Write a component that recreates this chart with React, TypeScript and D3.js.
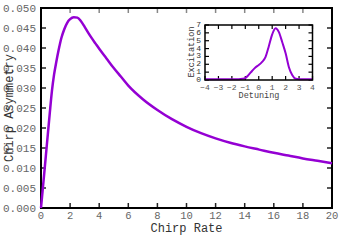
import React from "react";
import * as d3 from "d3";

// main curve: chirp asymmetry vs chirp rate
const chirpRate = [0, 0.2, 0.4, 0.6, 0.75, 0.9, 1.05, 1.2, 1.4, 1.6, 1.8, 2.0, 2.25, 2.5, 2.75, 3.0, 3.25, 3.5, 3.75, 4.0, 4.5, 5.0, 5.5, 6.0, 7.0, 8.0, 9.0, 10.0, 11.0, 12.0, 13.0, 14.0, 15.0, 16.0, 17.0, 18.0, 19.0, 20.0];
const asymmetry = [0, 0.0078, 0.0157, 0.0236, 0.0292, 0.0334, 0.0365, 0.0393, 0.0425, 0.0447, 0.0463, 0.0472, 0.0477, 0.0476, 0.0467, 0.0453, 0.0438, 0.0424, 0.0411, 0.0398, 0.0374, 0.035, 0.0328, 0.0306, 0.0272, 0.0245, 0.0222, 0.0203, 0.0187, 0.0174, 0.0163, 0.0154, 0.0146, 0.0138, 0.0131, 0.0124, 0.0118, 0.0112];

// inset: excitation vs detuning
const detuning = [-4, -3, -2, -1.5, -1.2, -1.0, -0.75, -0.5, -0.25, 0, 0.25, 0.5, 0.75, 1.0, 1.25, 1.5, 1.75, 2.0, 2.25, 2.5, 2.75, 3.0, 4.0];
const excitation = [0.1, 0.1, 0.1, 0.1, 0.15, 0.25, 0.65, 1.15, 1.6, 1.9, 2.3, 2.9, 4.3, 5.8, 6.6, 6.1, 4.8, 3.4, 1.6, 0.6, 0.15, 0.1, 0.1];

const xTicks = d3.range(0, 21, 2);
const yTicks = d3.range(0, 0.0501, 0.005);
const insetXTicks = d3.range(-4, 5, 1);
const insetYTicks = d3.range(0, 8, 1);

const FONT = "'Liberation Mono', 'DejaVu Sans Mono', monospace";
const PURPLE = "#9400d3";

export default function App() {
  const x = d3.scaleLinear().domain([0, 20]).range([41, 332]);
  const y = d3.scaleLinear().domain([0, 0.05]).range([208, 8]);
  const ix = d3.scaleLinear().domain([-4, 4]).range([205, 312.5]);
  const iy = d3.scaleLinear().domain([0, 7]).range([80, 25]);

  const mainLine = d3
    .line<number>()
    .x((d, i) => x(chirpRate[i]))
    .y((d) => y(d))
    .curve(d3.curveMonotoneX)(asymmetry);

  const insetLine = d3
    .line<number>()
    .x((d, i) => ix(detuning[i]))
    .y((d) => iy(d))
    .curve(d3.curveMonotoneX)(excitation);

  return (
    <div style={{ position: "absolute", left: 0, top: 0 }}>
      <svg width={346} height={246} style={{ display: "block", background: "#fff" }} fontFamily={FONT}>
        {/* main ticks */}
        {xTicks.map((t) => (
          <g key={"xt" + t}>
            <line x1={x(t)} x2={x(t)} y1={208} y2={203} stroke="#222" strokeWidth={1.5} />
            <line x1={x(t)} x2={x(t)} y1={8} y2={13} stroke="#888" strokeWidth={1.5} />
            <text x={x(t)} y={219} fontSize={10.5} fill="#666" textAnchor="middle">{t}</text>
          </g>
        ))}
        {yTicks.map((t) => (
          <g key={"yt" + t}>
            <line x1={41} x2={46} y1={y(t)} y2={y(t)} stroke="#222" strokeWidth={1.5} />
            <line x1={332} x2={327} y1={y(t)} y2={y(t)} stroke="#222" strokeWidth={1.5} />
            <text x={36} y={y(t) + 3.5} fontSize={11} fill="#666" textAnchor="end">{t.toFixed(3)}</text>
          </g>
        ))}
        <rect x={41} y={8} width={291} height={200} fill="none" stroke="#000" strokeWidth={2} />
        <path d={mainLine ?? ""} fill="none" stroke={PURPLE} strokeWidth={2.5} />
        <text x={186.5} y={232} fontSize={12} fill="#333" textAnchor="middle">Chirp Rate</text>
        <text transform="translate(13,108) rotate(-90)" fontSize={12} fill="#333" textAnchor="middle">Chirp Asymmetry</text>

        {/* inset */}
        <rect x={205} y={25} width={107.5} height={55} fill="#fff" stroke="none" />
        {insetXTicks.map((t) => (
          <g key={"ixt" + t}>
            <line x1={ix(t)} x2={ix(t)} y1={80} y2={76} stroke="#000" strokeWidth={1.2} />
            <line x1={ix(t)} x2={ix(t)} y1={25} y2={29} stroke="#000" strokeWidth={1.2} />
            <text x={ix(t)} y={89.5} fontSize={8} fill="#555" textAnchor="middle">{t < 0 ? "\u2212" + Math.abs(t) : t}</text>
          </g>
        ))}
        {insetYTicks.map((t) => (
          <g key={"iyt" + t}>
            <line x1={205} x2={209} y1={iy(t)} y2={iy(t)} stroke="#000" strokeWidth={1.2} />
            <line x1={312.5} x2={308.5} y1={iy(t)} y2={iy(t)} stroke="#000" strokeWidth={1.2} />
            <text x={201} y={iy(t) + 2} fontSize={8} fill="#333" textAnchor="end">{t}</text>
          </g>
        ))}
        <path d={insetLine ?? ""} fill="none" stroke={PURPLE} strokeWidth={2} />
        <rect x={205} y={25} width={107.5} height={55} fill="none" stroke="#000" strokeWidth={1.5} />
        <text x={259} y={97.5} fontSize={8.5} fill="#444" textAnchor="middle">Detuning</text>
        <text transform="translate(194,52) rotate(-90)" fontSize={8.5} fill="#333" textAnchor="middle">Excitation</text>
      </svg>
    </div>
  );
}
